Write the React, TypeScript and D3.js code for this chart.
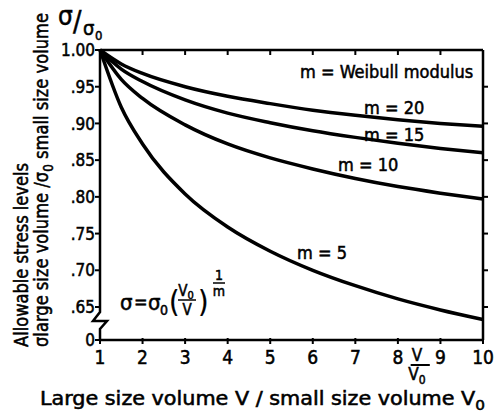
import React from "react";
import * as d3 from "d3";

const xValues = [1, 1.5, 2, 3, 4, 5, 6, 7, 8, 9, 10];
const m20 = [1.0, 0.981, 0.968, 0.95, 0.937, 0.927, 0.918, 0.911, 0.905, 0.9, 0.896];
const m15 = [1.0, 0.974, 0.957, 0.932, 0.914, 0.901, 0.89, 0.881, 0.873, 0.866, 0.86];
const m10 = [1.0, 0.96, 0.934, 0.898, 0.872, 0.853, 0.838, 0.825, 0.814, 0.805, 0.797];
const m5 = [1.0, 0.922, 0.872, 0.804, 0.759, 0.726, 0.7, 0.679, 0.661, 0.646, 0.633];

const yTickValues = [1.0, 0.95, 0.9, 0.85, 0.8, 0.75, 0.7, 0.65];
const yTickLabels = ["1.00", ".95", ".90", ".85", ".80", ".75", ".70", ".65"];
const yZeroLabel = "0";
const xTickValues = [1, 2, 3, 4, 5, 6, 7, 8, 9, 10];
const xTickLabels = ["1", "2", "3", "4", "5", "6", "7", "8", "9", "10"];

const FONT = "'DejaVu Sans Condensed', 'Liberation Sans Narrow', sans-serif";

export default function App() {
  const x = d3.scaleLinear().domain([1, 10]).range([100, 483]);
  const y = d3.scaleLinear().domain([0.65, 1]).range([307, 50]);
  const yBot = 340; // position of the broken-axis zero
  const line = d3
    .line<number>()
    .x((_, i) => x(xValues[i]))
    .y((d) => y(d))
    .curve(d3.curveMonotoneX);

  const series = [m20, m15, m10, m5];
  const x0 = x(1);
  const x1 = x(10);
  const yTop = y(1);

  const textStyle: React.CSSProperties = { fontFamily: FONT, fill: "#000", stroke: "#000", strokeWidth: 0.5 };

  return (
    <svg width={494} height={416} style={{ position: "absolute", left: 0, top: 0, background: "#fff" }}>
      <rect width={494} height={416} fill="#fff" />
      {/* frame */}
      <g stroke="#000" strokeWidth={2.5} fill="none">
        <line x1={x0} y1={yTop} x2={x1} y2={yTop} />
        <line x1={x1} y1={yTop} x2={x1} y2={yBot} />
        <line x1={x0 - 1} y1={yBot} x2={x1} y2={yBot} />
        <path d={`M${x0},${yTop} L${x0},${y(0.65) + 5} L${x0 - 7},${y(0.65) + 14} L${x0 + 7},${y(0.65) + 14} L${x0},${y(0.65) + 22} L${x0},${yBot}`} />
      </g>
      {/* ticks */}
      <g stroke="#000" strokeWidth={2}>
        {yTickValues.map((v) => (
          <line key={"yl" + v} x1={x0 - 5} x2={x0} y1={y(v)} y2={y(v)} />
        ))}
        <line x1={x0 - 5} x2={x0} y1={yBot} y2={yBot} />
        {yTickValues.filter((v) => v < 1).map((v) => (
          <line key={"yr" + v} x1={x1} x2={x1 + 5} y1={y(v)} y2={y(v)} />
        ))}
        {xTickValues.filter((v) => v > 1 && v < 10).map((v) => (
          <line key={"xt" + v} x1={x(v)} x2={x(v)} y1={yTop} y2={yTop + 5} />
        ))}
        {xTickValues.map((v) => (
          <line key={"xb" + v} x1={x(v)} x2={x(v)} y1={yBot - 2} y2={yBot + 4} />
        ))}
      </g>
      {/* curves */}
      <g fill="none" stroke="#000" strokeWidth={3.5} strokeLinejoin="round">
        {series.map((s, i) => (
          <path key={i} d={line(s) || ""} />
        ))}
      </g>
      {/* y tick labels */}
      <g style={textStyle} fontSize={17} textAnchor="end">
        {yTickValues.map((v, i) => (
          <text key={"ytl" + v} x={x0 - 5} y={y(v)} dy="0.36em">
            {yTickLabels[i]}
          </text>
        ))}
        <text x={x0 - 5} y={yBot} dy="0.36em">{yZeroLabel}</text>
      </g>
      {/* x tick labels */}
      <g style={textStyle} fontSize={19} textAnchor="middle">
        {xTickValues.map((v, i) => (
          <text key={"xtl" + v} x={x(v)} y={yBot + 24}>
            {xTickLabels[i]}
          </text>
        ))}
      </g>
      {/* V/V0 fraction */}
      <g style={textStyle} fontSize={17} textAnchor="middle">
        <text x={x(8.45)} y={361}>V</text>
        <line x1={x(8.3)} x2={x(8.75)} y1={365} y2={365} stroke="#000" strokeWidth={2} />
        <text x={x(8.45)} y={380}>V<tspan fontSize={12} dy={4}>0</tspan></text>
      </g>
      {/* x axis title */}
      <text style={textStyle} fontSize={19} x={40} y={405} textLength={445} lengthAdjust="spacingAndGlyphs">
        Large size volume V / small size volume V<tspan fontSize={14} dy={5}>0</tspan>
      </text>
      {/* y axis title */}
      <text style={textStyle} fontSize={19} textAnchor="middle" transform="translate(28,255) rotate(-90)" textLength={184} lengthAdjust="spacingAndGlyphs">
        Allowable stress levels
      </text>
      <text style={textStyle} fontSize={19} textAnchor="middle" transform="translate(48,180) rotate(-90)" textLength={334} lengthAdjust="spacingAndGlyphs">
        σlarge size volume /σ<tspan fontSize={14} dy={5}>0</tspan><tspan dy={-5}> small size volume</tspan>
      </text>
      {/* top-left σ/σ0 */}
      <g style={textStyle}>
        <text fontSize={26} x={58} y={25}>σ</text>
        <text fontSize={28} x={73} y={31}>/</text>
        <text fontSize={20} x={83} y={35}>σ</text>
        <text fontSize={13} x={95} y={40}>0</text>
      </g>
      {/* annotations */}
      <g style={textStyle} fontSize={18}>
        <text x={300} y={78}>m = Weibull  modulus</text>
        <text x={364} y={114}>m = 20</text>
        <text x={364} y={141}>m = 15</text>
        <text x={338} y={171}>m = 10</text>
        <text x={297} y={259}>m = 5</text>
      </g>
      {/* formula */}
      <g style={textStyle}>
        <text fontSize={22} x={120} y={310}>σ</text>
        <text fontSize={18} x={134} y={308}>=</text>
        <text fontSize={22} x={148} y={310}>σ</text>
        <text fontSize={14} x={160} y={315}>0</text>
        <text fontSize={30} x={169} y={312} style={{ ...textStyle, strokeWidth: 0.2 }}>(</text>
        <text fontSize={15} x={186} y={296} textAnchor="middle">V<tspan fontSize={11} dy={3}>0</tspan></text>
        <line x1={178} x2={196} y1={300} y2={300} stroke="#000" strokeWidth={1.5} />
        <text fontSize={15} x={187} y={315} textAnchor="middle">V</text>
        <text fontSize={30} x={198} y={312} style={{ ...textStyle, strokeWidth: 0.2 }}>)</text>
        <text fontSize={14} x={219} y={280} textAnchor="middle">1</text>
        <line x1={213} x2={225} y1={283} y2={283} stroke="#000" strokeWidth={1.5} />
        <text fontSize={14} x={219} y={296} textAnchor="middle">m</text>
      </g>
    </svg>
  );
}
